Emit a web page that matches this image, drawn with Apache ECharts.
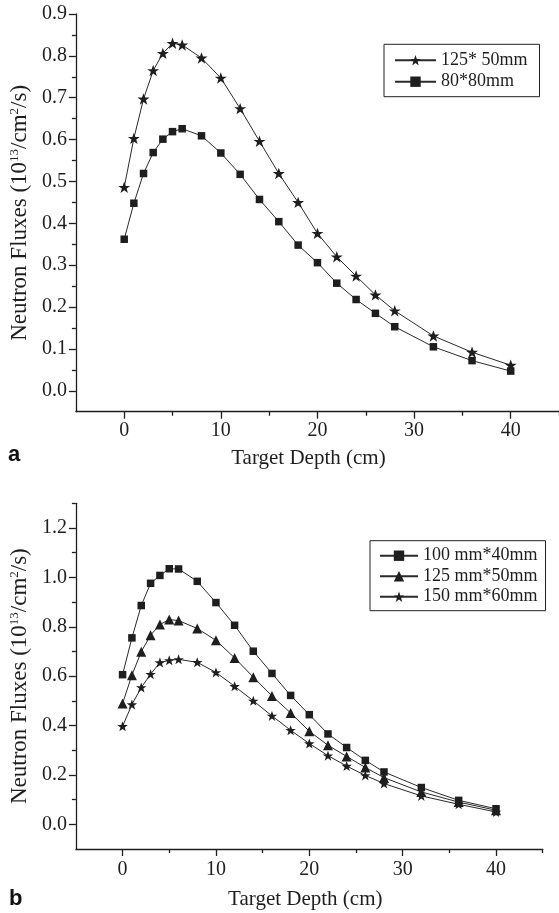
<!DOCTYPE html>
<html>
<head>
<meta charset="utf-8">
<script src="https://cdn.jsdelivr.net/npm/echarts@6/dist/echarts.min.js"></script>
<style>
html,body{margin:0;padding:0;background:#fff;}
#chart{width:559px;height:913px;}
</style>
</head>
<body>
<div id="chart"></div>
<script>
// ---- data ----
const depth = [0,1,2,3,4,5,6,8,10,12,14,16,18,20,22,24,26,28,32,36,40];
// panel a
const a_125x50 = [0.486,0.603,0.697,0.765,0.806,0.830,0.826,0.795,0.747,0.674,0.596,0.519,0.450,0.376,0.320,0.274,0.229,0.191,0.131,0.092,0.061];
const a_80x80  = [0.362,0.448,0.519,0.569,0.601,0.619,0.626,0.609,0.568,0.517,0.457,0.404,0.348,0.306,0.257,0.218,0.185,0.153,0.105,0.072,0.047];
// panel b
const b_100x40 = [0.606,0.755,0.886,0.976,1.008,1.035,1.034,0.984,0.898,0.806,0.701,0.611,0.522,0.444,0.366,0.311,0.259,0.212,0.149,0.097,0.063];
const b_125x50 = [0.489,0.604,0.699,0.766,0.809,0.829,0.825,0.793,0.745,0.674,0.596,0.520,0.451,0.377,0.320,0.275,0.230,0.189,0.131,0.090,0.057];
const b_150x60 = [0.397,0.485,0.554,0.608,0.655,0.664,0.668,0.656,0.615,0.559,0.500,0.439,0.381,0.327,0.278,0.236,0.198,0.165,0.115,0.081,0.050];
// names
const aNames = ['125* 50mm','80*80mm'];
const bNames = ['100 mm*40mm','125 mm*50mm','150 mm*60mm'];
// ticks
const xMajor = [0,10,20,30,40];
const xMinor = [5,15,25,35,45];
const aYMajor = [0,0.1,0.2,0.3,0.4,0.5,0.6,0.7,0.8,0.9];
const aYMinor = [0.05,0.15,0.25,0.35,0.45,0.55,0.65,0.75,0.85];
const bYMajor = [0,0.2,0.4,0.6,0.8,1.0,1.2];
const bYMinor = [0.1,0.3,0.5,0.7,0.9,1.1,1.3];

const FONT = "'Liberation Serif','Times New Roman',serif";
const INK = '#1e1e1e';
const STAR = 'path://M50,0 L63,36 L100,36 L70,58 L81,95 L50,73 L19,95 L30,58 L0,36 L37,36 Z';

const pairs = ys => depth.map((x,i)=>[x, ys[i]]);

function xAxisMain(grid, min, max, nameGap, padR, labelMargin){
  return {
    type:'value', gridIndex:grid, min:min, max:max, position:'bottom',
    name:'Target Depth (cm)', nameLocation:'middle', nameGap:nameGap,
    nameTextStyle:{fontFamily:FONT, fontSize:21, color:INK, padding:[0,padR,0,0]},
    axisLine:{show:true, onZero:false, lineStyle:{color:INK, width:1.3}},
    axisTick:{show:true, inside:false, length:7, customValues:xMajor, lineStyle:{color:INK, width:1.3}},
    axisLabel:{show:true, customValues:xMajor, margin:labelMargin, fontFamily:FONT, fontSize:20, color:INK},
    splitLine:{show:false}
  };
}
function xAxisMinor(grid, min, max){
  return {
    type:'value', gridIndex:grid, min:min, max:max, position:'bottom',
    axisLine:{show:false, onZero:false},
    axisTick:{show:true, inside:false, length:4, customValues:xMinor, lineStyle:{color:INK, width:1.3}},
    axisLabel:{show:false, customValues:xMinor},
    splitLine:{show:false}
  };
}
function yAxisMain(grid, min, max, major, nameGap){
  return {
    type:'value', gridIndex:grid, min:min, max:max, position:'left',
    name:'{n|Neutron Fluxes (10}{s|13}{n|/cm}{s|2}{n|/s)}',
    nameLocation:'middle', nameGap:nameGap, nameRotate:90,
    nameTextStyle:{fontFamily:FONT, color:INK,
      rich:{
        n:{fontFamily:FONT, fontSize:23, color:INK, lineHeight:23, verticalAlign:'bottom'},
        s:{fontFamily:FONT, fontSize:13, color:INK, lineHeight:23, verticalAlign:'top'}
      }},
    axisLine:{show:true, onZero:false, lineStyle:{color:INK, width:1.3}},
    axisTick:{show:true, inside:false, length:7, customValues:major, lineStyle:{color:INK, width:1.3}},
    axisLabel:{show:true, customValues:major, margin:9, fontFamily:FONT, fontSize:20, color:INK,
      formatter: v => v.toFixed(1)},
    splitLine:{show:false}
  };
}
function yAxisMinor(grid, min, max, minor){
  return {
    type:'value', gridIndex:grid, min:min, max:max, position:'left',
    axisLine:{show:false, onZero:false},
    axisTick:{show:true, inside:false, length:4, customValues:minor, lineStyle:{color:INK, width:1.3}},
    axisLabel:{show:false, customValues:minor},
    splitLine:{show:false}
  };
}
function lineSeries(name, xi, yi, ys, symbol, size){
  return {
    type:'line', name:name, xAxisIndex:xi, yAxisIndex:yi, data:pairs(ys),
    symbol:symbol, symbolSize:size, symbolKeepAspect:true, showSymbol:true,
    lineStyle:{color:'#2a2a2a', width:1},
    itemStyle:{color:INK, borderWidth:0},
    animation:false, z:3
  };
}

const legendCommon = {
  orient:'vertical', borderColor:'#222', borderWidth:1, itemHeight:13,
  textStyle:{fontFamily:FONT, fontSize:18, color:INK, lineHeight:18}, selectedMode:false,
  itemStyle:{borderWidth:0}
};

const chart = echarts.init(document.getElementById('chart'), null, {renderer:'canvas'});
chart.setOption({
  animation:false,
  backgroundColor:'#ffffff',
  grid:[
    {left:71, top:14, width:491, height:397.7, containLabel:false},
    {left:70, top:503.3, width:472.7, height:345.7, containLabel:false}
  ],
  xAxis:[
    xAxisMain(0,-5,45,36,18,9),
    xAxisMinor(0,-5,45),
    xAxisMain(1,-5,45,40,8,11),
    xAxisMinor(1,-5,45)
  ],
  yAxis:[
    yAxisMain(0,-0.05,0.9,aYMajor,40),
    yAxisMinor(0,-0.05,0.9,aYMinor),
    yAxisMain(1,-0.1,1.3,bYMajor,39),
    yAxisMinor(1,-0.1,1.3,bYMinor)
  ],
  legend:[
    Object.assign({}, legendCommon, {data:aNames, left:384, top:44.3, padding:[7,12,6,10], itemWidth:41, itemGap:3.4}),
    Object.assign({}, legendCommon, {data:bNames, left:370, top:540.7, padding:[6,8,5,9], itemWidth:38, itemGap:2.5})
  ],
  graphic:[
    {type:'text', left:8, top:444, style:{text:'a', font:"bold 22px 'Liberation Sans', Arial, sans-serif", fill:'#111'}},
    {type:'text', left:9, top:888, style:{text:'b', font:"bold 22px 'Liberation Sans', Arial, sans-serif", fill:'#111'}}
  ],
  series:[
    lineSeries(aNames[0],0,0,a_125x50,STAR,12),
    lineSeries(aNames[1],0,0,a_80x80,'rect',7.5),
    lineSeries(bNames[0],2,2,b_100x40,'rect',7.5),
    lineSeries(bNames[1],2,2,b_125x50,'triangle',10),
    lineSeries(bNames[2],2,2,b_150x60,STAR,10.5)
  ]
});
</script>
</body>
</html>
